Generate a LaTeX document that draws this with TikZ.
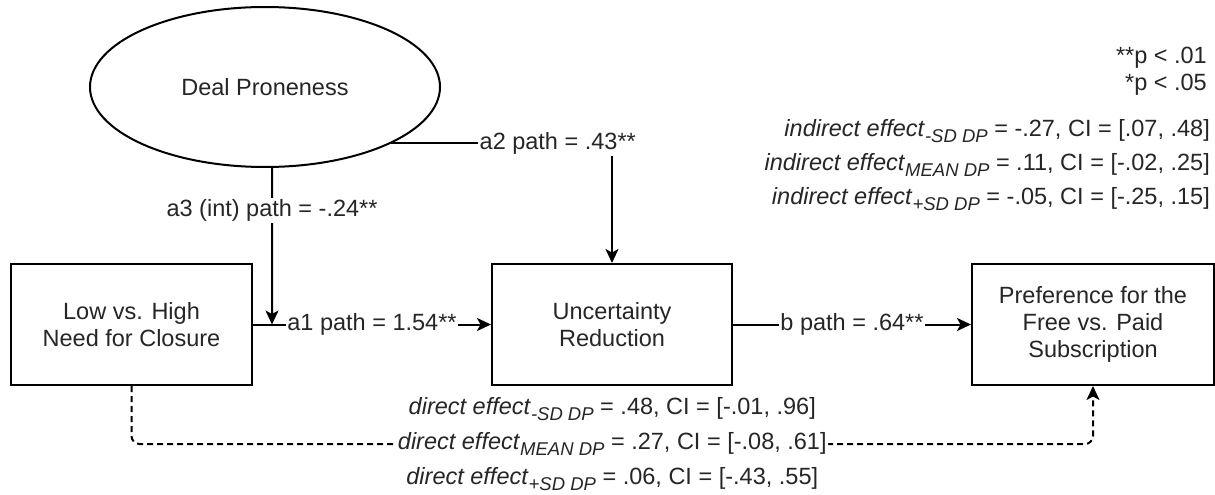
\documentclass[tikz,border=0pt]{standalone}
\usepackage{fontspec}
\setmainfont{Liberation Sans}
\usetikzlibrary{arrows.meta,shapes.geometric,calc}
\definecolor{txt}{RGB}{38,38,38}
\newcommand\dfont{\fontsize{23.5}{27}\selectfont}
\newcommand\sbx[1]{\raisebox{-6pt}{\fontsize{18.5}{18.5}\selectfont\itshape #1}}
\begin{document}
\begin{tikzpicture}[x=1pt,y=-1pt,
  every node/.style={text=txt, font=\dfont},
  box/.style={draw=black, line width=2pt, rectangle, align=center, inner sep=0pt, minimum height=121pt},
  conn/.style={draw=black, line width=2pt, -{Stealth[length=14pt,width=13pt,inset=3.5pt]}},
  dashconn/.style={conn, dash pattern=on 6pt off 4pt, rounded corners=8pt},
  lbl/.style={fill=white, inner sep=1.5pt},
]
\useasboundingbox (0,0) rectangle (1215,495);
\fill[white] (0,0) rectangle (1215,495);

% nodes
\node[ellipse, draw=black, line width=2pt, minimum width=350pt, minimum height=160pt, inner sep=0pt] (dp) at (265,87) {Deal Proneness};
\node[box, minimum width=241pt] (lo) at (131.5,324.5) {Low vs. High\\Need for Closure};
\node[box, minimum width=240pt] (ur) at (612,324.5) {Uncertainty\\Reduction};
\node[box, minimum width=242pt] (pref) at (1093,324.5) {Preference for the\\Free vs. Paid\\Subscription};

\coordinate (j) at (272,324.5);
\coordinate (dl) at (131.5,444);
\coordinate (dr) at (1093,444);

% connectors
\draw[conn] (dp.-24.2) -| node[lbl, pos=0.377] (a2l) {a2 path = .43**} (ur.north);
\draw[conn] (dp.-85) -- node[lbl, pos=0.274] (a3l) {a3 (int) path = -.24**} (j);
\draw[conn] (lo) -- node[lbl] (a1l) {a1 path = 1.54**} (ur);
\draw[conn] (ur) -- node[lbl] (bl) {b path = .64**} (pref);
\draw[dashconn] (lo.south) -- (dl) -- node[lbl, align=center, font={\fontsize{23.5}{35}\selectfont}] (dl1)
  {\textit{direct effect}\sbx{-SD DP} = .48, CI = [-.01, .96]\\
   \textit{direct effect}\sbx{MEAN DP} = .27, CI = [-.08, .61]\\
   \textit{direct effect}\sbx{+SD DP} = .06, CI = [-.43, .55]} (dr) -- (pref.south);

% notes
\node[anchor=east, align=right, font={\fontsize{23.5}{27}\selectfont}, inner sep=0pt] (pv) at (1207,71) {**p < .01\\*p < .05};
\node[anchor=east, align=right, font={\fontsize{23.5}{34}\selectfont}, inner sep=0pt] (ind) at (1210,165)
  {\textit{indirect effect}\sbx{-SD DP} = -.27, CI = [.07, .48]\\
   \textit{indirect effect}\sbx{MEAN DP} = .11, CI = [-.02, .25]\\
   \textit{indirect effect}\sbx{+SD DP} = -.05, CI = [-.25, .15]};
\end{tikzpicture}
\end{document}
